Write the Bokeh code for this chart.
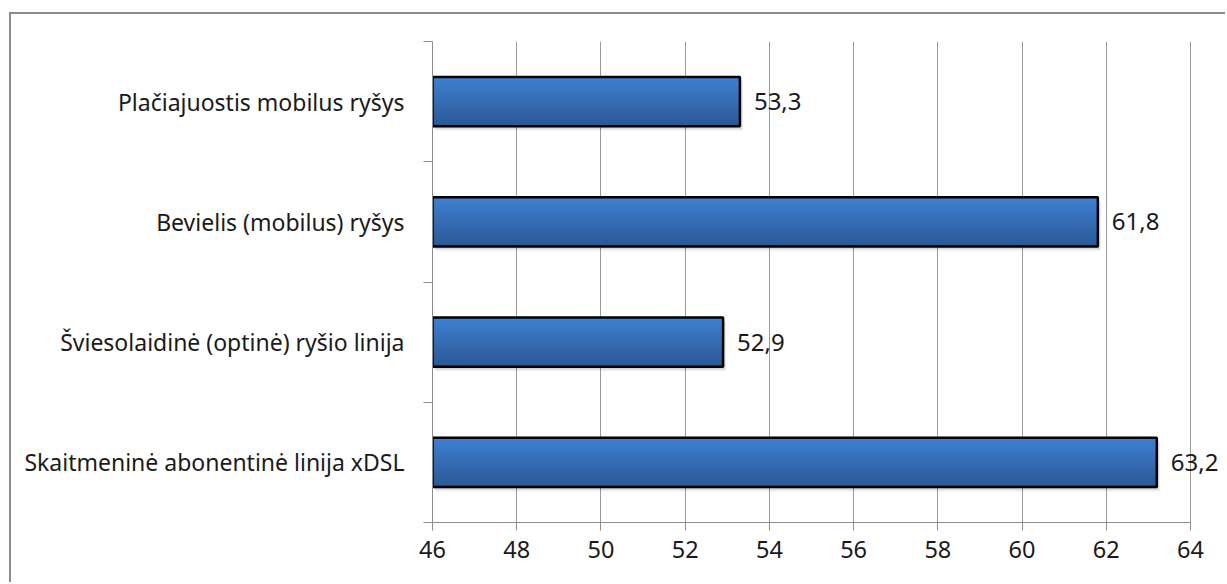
from bokeh.plotting import figure
from bokeh.models import ColumnDataSource, FixedTicker, LabelSet, Range1d
from bokeh.transform import dodge
from bokeh.core.properties import value
from bokeh.embed import file_html
from bokeh.resources import INLINE

categories = ["Skaitmeninė abonentinė linija xDSL",
              "Šviesolaidinė (optinė) ryšio linija",
              "Bevielis (mobilus) ryšys",
              "Plačiajuostis mobilus ryšys"]
values = [63.2, 52.9, 61.8, 53.3]
x_ticks = [46, 48, 50, 52, 54, 56, 58, 60, 62, 64]
x_start = 46

ypos = [i + 0.5 for i in range(len(categories))]
labels = [f"{v:.1f}".replace(".", ",") for v in values]
src = ColumnDataSource(dict(y=ypos, v=values, lab=labels, left=[x_start] * len(values)))

FONT = "Noto Sans"
# frame: left edge at 432 px, 64 at 1190 px; extra room right for value labels
px_per_unit = (1190 - 432) / (x_ticks[-1] - x_ticks[0])
x_end = x_ticks[-1] + (1227 - 1190) / px_per_unit

p = figure(width=1216, height=570, margin=(12, 0, 0, 9),
           output_backend="svg", toolbar_location=None,
           x_range=Range1d(x_ticks[0], x_end), y_range=Range1d(0, len(categories)),
           min_border_left=421, min_border_right=0, min_border_top=27, min_border_bottom=62,
           styles={"border-left": "2px solid #8c8c8c", "border-top": "2px solid #8c8c8c"})
p.outline_line_color = None
p.background_fill_color = "white"
p.border_fill_color = "white"

# grid
p.ygrid.grid_line_color = None
p.xgrid.grid_line_color = "#9a9a9a"
p.xgrid.grid_line_width = 1
p.xaxis.ticker = FixedTicker(ticks=x_ticks)

H = 0.41
# shadow
p.hbar(y=dodge("y", -0.035, range=p.y_range), left=dodge("left", 0.07, range=p.x_range),
       right=dodge("v", 0.07, range=p.x_range), height=H, source=src,
       fill_color="#000000", fill_alpha=0.08, line_color=None)
p.hbar(y=dodge("y", -0.02, range=p.y_range), left=dodge("left", 0.04, range=p.x_range),
       right=dodge("v", 0.04, range=p.x_range), height=H, source=src,
       fill_color="#000000", fill_alpha=0.10, line_color=None)

# gradient bar body (top light -> bottom dark), each strip reaches the bar bottom
top_c = (0x3e, 0x7f, 0xd0)
bot_c = (0x2b, 0x59, 0x96)
n = 16
for k in range(n):
    t = k / (n - 1)
    c = tuple(round(top_c[i] + (bot_c[i] - top_c[i]) * t) for i in range(3))
    top = H / 2 - k * H / n
    bottom = -H / 2
    p.hbar(y=dodge("y", (top + bottom) / 2, range=p.y_range), left="left", right="v",
           height=top - bottom, source=src, fill_color="#%02x%02x%02x" % c, line_color=None)
p.hbar(y="y", left="left", right="v", height=H, source=src, fill_color=None,
       line_color="#000000", line_width=2.5)

p.add_layout(LabelSet(x="v", y="y", text="lab", source=src, x_offset=14,
                      text_baseline="middle", text_font_size="24px",
                      text_font=value(FONT), text_color="#1a1a1a"))

# axes
p.yaxis.ticker = FixedTicker(ticks=ypos, minor_ticks=list(range(len(categories) + 1)))
p.yaxis.major_label_overrides = {y: c for y, c in zip(ypos, categories)}
p.yaxis.major_tick_line_color = None
p.yaxis.major_tick_out = 0
p.yaxis.major_tick_in = 0
p.yaxis.minor_tick_in = 0
p.yaxis.minor_tick_out = 9
p.yaxis.minor_tick_line_color = "#8c8c8c"
p.yaxis.axis_line_color = "#8c8c8c"
p.yaxis.major_label_standoff = 19
p.yaxis.major_label_text_font = FONT
p.yaxis.major_label_text_font_size = "23px"
p.yaxis.major_label_text_color = "#1a1a1a"

p.xaxis.bounds = (x_ticks[0], x_ticks[-1])
p.xaxis.axis_line_color = "#8c8c8c"
p.xaxis.major_tick_line_color = "#8c8c8c"
p.xaxis.major_tick_in = 0
p.xaxis.major_tick_out = 8
p.xaxis.minor_tick_line_color = None
p.xaxis.major_label_standoff = 10
p.xaxis.major_label_text_font = FONT
p.xaxis.major_label_text_font_size = "23.5px"
p.xaxis.major_label_text_color = "#1a1a1a"

open("out.html", "w").write(file_html(p, INLINE))
